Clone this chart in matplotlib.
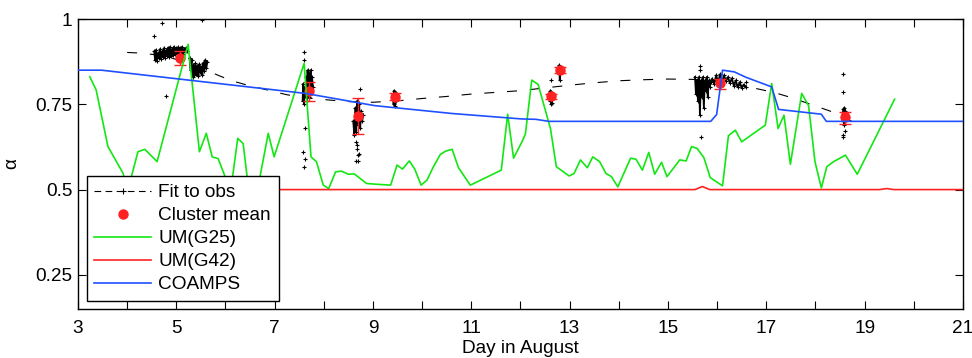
import numpy as np
import matplotlib.pyplot as plt
from matplotlib.lines import Line2D

plt.rcParams['font.family'] = ['Liberation Sans', 'DejaVu Sans']
plt.rcParams['font.size'] = 13.7

# --- observations (alpha per sample), grouped by cluster ---
obs1a_day = [4.55, 4.57, 4.59, 4.61, 4.63, 4.65, 4.67, 4.69, 4.71, 4.73, 4.75, 4.77,
             4.79, 4.81, 4.83, 4.85, 4.87, 4.89, 4.91, 4.93, 4.95, 4.97, 4.99, 5.01,
             5.03, 5.05, 5.07, 5.09, 5.11, 5.13, 5.15, 5.17, 5.19, 5.21]
obs1a_alpha = [0.905, 0.880, 0.910, 0.878, 0.900, 0.885, 0.912, 0.882, 0.905, 0.888,
               0.915, 0.886, 0.908, 0.892, 0.916, 0.890, 0.918, 0.893, 0.912, 0.895,
               0.919, 0.897, 0.914, 0.899, 0.917, 0.896, 0.915, 0.900, 0.918, 0.898,
               0.912, 0.902, 0.915, 0.905]
obs1b_day = [5.27, 5.29, 5.31, 5.33, 5.35, 5.37, 5.39, 5.41, 5.43, 5.45, 5.47, 5.49,
             5.51, 5.53, 5.55, 5.57, 5.59, 5.61, 5.63]
obs1b_alpha = [0.885, 0.850, 0.880, 0.830, 0.865, 0.835, 0.870, 0.840, 0.862, 0.832,
               0.868, 0.845, 0.860, 0.835, 0.872, 0.848, 0.880, 0.855, 0.875]
obs2_day = [7.57, 7.58, 7.60, 7.61, 7.63, 7.64, 7.66, 7.67, 7.69, 7.70, 7.72, 7.73,
            7.75, 7.76, 7.78]
obs2_alpha = [0.76, 0.81, 0.75, 0.80, 0.77, 0.83, 0.76, 0.85, 0.77, 0.84, 0.78, 0.85,
              0.79, 0.83, 0.80]
obs3_day = [8.60, 8.62, 8.64, 8.66, 8.68, 8.70, 8.72, 8.74, 8.76, 8.78, 8.80]
obs3_alpha = [0.70, 0.66, 0.74, 0.67, 0.76, 0.69, 0.75, 0.68, 0.73, 0.70, 0.72]
obs4_day = [9.41, 9.42, 9.43, 9.44, 9.45, 9.46, 9.47, 9.48]
obs4_alpha = [0.78, 0.75, 0.79, 0.745, 0.785, 0.76, 0.775, 0.765]
obs5_day = [12.58, 12.60, 12.61, 12.62, 12.63, 12.64, 12.66]
obs5_alpha = [0.78, 0.76, 0.79, 0.75, 0.785, 0.755, 0.775]
obs6_day = [12.76, 12.78, 12.79, 12.80, 12.81, 12.82, 12.84]
obs6_alpha = [0.855, 0.84, 0.865, 0.82, 0.86, 0.845, 0.855]
obs7a_day = [15.55, 15.57, 15.59, 15.61, 15.63, 15.65, 15.67, 15.69, 15.71, 15.73,
             15.75, 15.77, 15.79, 15.81, 15.83, 15.85, 15.87]
obs7a_alpha = [0.83, 0.78, 0.82, 0.76, 0.83, 0.72, 0.82, 0.77, 0.83, 0.74, 0.82, 0.79,
               0.83, 0.77, 0.82, 0.80, 0.815]
obs7b_day = [15.90, 15.94, 15.98, 16.02, 16.06, 16.10, 16.14, 16.18, 16.22, 16.26,
             16.30, 16.34, 16.38, 16.42, 16.46, 16.50, 16.54, 16.58]
obs7b_alpha = [0.825, 0.810, 0.835, 0.815, 0.838, 0.815, 0.835, 0.818, 0.830, 0.812,
               0.826, 0.805, 0.820, 0.800, 0.815, 0.798, 0.808, 0.800]
obs8_day = [18.55, 18.56, 18.57, 18.58, 18.59, 18.60, 18.61, 18.62, 18.63]
obs8_alpha = [0.72, 0.70, 0.735, 0.69, 0.74, 0.70, 0.73, 0.71, 0.725]

# stray samples outside the dense bands
stray_day = [4.55, 4.70, 4.80, 5.53, 7.60, 7.59, 7.61, 7.57, 7.62, 7.60,
             8.74, 8.65, 8.67, 8.69, 8.65, 8.70, 8.72, 8.68, 12.63,
             15.65, 15.65, 15.67, 16.58, 18.57, 18.57, 18.60, 18.57, 18.57]
stray_alpha = [0.950, 0.987, 0.775, 0.998, 0.902, 0.880, 0.681, 0.611, 0.589, 0.567,
               0.795, 0.640, 0.620, 0.600, 0.585, 0.585, 0.605, 0.630, 0.820,
               0.863, 0.850, 0.655, 0.816, 0.838, 0.787, 0.672, 0.660, 0.655]

# --- fit to observations ---
fit_day = [4.0, 4.3, 4.7, 5.1, 5.5, 5.85, 6.15, 6.4, 6.85, 7.25, 7.7, 8.15, 8.5, 9.0,
           9.5, 10.0, 10.5, 11.0, 11.5, 12.0, 12.5, 13.0, 13.5, 14.0, 14.5, 15.0,
           15.5, 16.0, 16.4, 16.8, 17.15, 17.5, 17.9, 18.3, 18.6, 18.97]
fit_alpha = [0.902, 0.900, 0.893, 0.878, 0.858, 0.835, 0.818, 0.808, 0.792, 0.778,
             0.768, 0.762, 0.758, 0.756, 0.760, 0.767, 0.773, 0.780, 0.785, 0.790,
             0.798, 0.806, 0.813, 0.819, 0.822, 0.824, 0.823, 0.818, 0.806, 0.796,
             0.785, 0.770, 0.750, 0.730, 0.710, 0.684]

# --- cluster means with spread ---
cm_day = [5.07, 7.70, 8.70, 9.44, 12.63, 12.80, 16.06, 18.60]
cm_alpha = [0.885, 0.789, 0.716, 0.772, 0.773, 0.851, 0.811, 0.712]
cm_err_lo = [0.020, 0.029, 0.053, 0.010, 0.008, 0.008, 0.017, 0.020]
cm_err_hi = [0.021, 0.027, 0.051, 0.010, 0.008, 0.008, 0.014, 0.016]

# --- model estimates ---
g25_day = [3.24, 3.37, 3.61, 3.92, 4.00, 4.22, 4.36, 4.61, 5.24, 5.47, 5.61, 5.73,
           5.85, 5.98, 6.10, 6.25, 6.36, 6.48, 6.64, 6.87, 6.99, 7.60, 7.74, 7.85,
           7.99, 8.10, 8.24, 8.36, 8.50, 8.62, 8.87, 9.04, 9.36, 9.49, 9.60, 9.74,
           9.85, 9.98, 10.10, 10.23, 10.37, 10.48, 10.61, 10.74, 10.98, 11.61, 11.74,
           11.86, 12.03, 12.10, 12.23, 12.36, 12.61, 12.73, 12.99, 13.09, 13.22,
           13.36, 13.47, 13.61, 13.74, 13.85, 13.98, 14.24, 14.35, 14.48, 14.61,
           14.73, 14.87, 14.98, 15.24, 15.37, 15.48, 15.59, 15.73, 15.86, 16.11,
           16.23, 16.37, 16.50, 16.98, 17.11, 17.24, 17.36, 17.49, 17.72, 17.86,
           17.99, 18.12, 18.23, 18.37, 18.61, 18.85, 19.61]
g25_alpha = [0.831, 0.792, 0.626, 0.547, 0.49, 0.611, 0.618, 0.582, 0.926, 0.611,
             0.665, 0.596, 0.591, 0.543, 0.49, 0.650, 0.635, 0.49, 0.49, 0.665,
             0.596, 0.870, 0.596, 0.582, 0.513, 0.503, 0.552, 0.554, 0.545, 0.546,
             0.518, 0.516, 0.513, 0.572, 0.560, 0.584, 0.560, 0.513, 0.528, 0.567,
             0.603, 0.613, 0.618, 0.564, 0.513, 0.557, 0.721, 0.592, 0.640, 0.662,
             0.821, 0.808, 0.679, 0.567, 0.540, 0.547, 0.587, 0.564, 0.596, 0.582,
             0.547, 0.538, 0.508, 0.592, 0.589, 0.557, 0.609, 0.545, 0.580, 0.538,
             0.587, 0.584, 0.626, 0.621, 0.594, 0.535, 0.511, 0.658, 0.674, 0.640,
             0.689, 0.811, 0.679, 0.718, 0.574, 0.782, 0.746, 0.582, 0.505, 0.567,
             0.582, 0.601, 0.545, 0.765]
g42_day = [3.25, 15.55, 15.70, 15.85, 19.30, 19.45, 19.60, 21.0]
g42_alpha = [0.5, 0.5, 0.509, 0.5, 0.5, 0.503, 0.5, 0.5]
coamps_day = [3.0, 3.48, 7.62, 7.82, 9.04, 10.61, 12.03, 12.31, 12.58, 15.87, 15.99,
              16.11, 16.35, 16.59, 17.11, 17.25, 17.87, 18.12, 18.22, 21.0]
coamps_alpha = [0.850, 0.850, 0.782, 0.777, 0.746, 0.723, 0.707, 0.706, 0.700, 0.700,
                0.720, 0.850, 0.845, 0.829, 0.801, 0.735, 0.725, 0.721, 0.700, 0.700]

green = '#14e614'
red = '#ff2222'
blue = '#1f50ff'
fit_dash = (9, 11.5)

fig = plt.figure(figsize=(9.72, 3.58), dpi=100)
ax = fig.add_axes([0.0802, 0.1369, 0.9105, 0.81])

bands = [(obs1a_day, obs1a_alpha), (obs1b_day, obs1b_alpha), (obs2_day, obs2_alpha),
         (obs3_day, obs3_alpha), (obs4_day, obs4_alpha), (obs5_day, obs5_alpha),
         (obs6_day, obs6_alpha), (obs7a_day, obs7a_alpha), (obs7b_day, obs7b_alpha),
         (obs8_day, obs8_alpha)]
for d, a in bands:
    ax.plot(d, a, color='k', lw=1.3, marker='+', ms=2.5, mew=0.8)
ax.plot(stray_day, stray_alpha, ls='none', color='k', marker='+', ms=2.2, mew=0.8)

ax.plot(fit_day, fit_alpha, color='k', lw=0.8, dashes=fit_dash)

cm_err = np.array([cm_err_lo, cm_err_hi])
ax.errorbar(cm_day, cm_alpha, yerr=cm_err, fmt='o', color=red, ms=6.5,
            ecolor=red, elinewidth=1.0, capsize=4.5, capthick=1.0, zorder=4)

ax.plot(g25_day, g25_alpha, color=green, lw=1.2, zorder=5)
ax.plot(g42_day, g42_alpha, color=red, lw=1.2, zorder=5)
ax.plot(coamps_day, coamps_alpha, color=blue, lw=1.2, zorder=5)

ax.set_xlim(3, 21)
ax.set_ylim(0.15, 1)
ax.set_xticks(np.arange(3, 22, 2))
ax.set_xticks(np.arange(4, 21, 2), minor=True)
ax.set_yticks([0.25, 0.5, 0.75, 1])
ax.set_yticklabels(['0.25', '0.5', '0.75', '1'])
ax.tick_params(which='both', direction='in', length=6, width=0.8,
               top=True, right=True, labelsize=13.7, colors='k')
ax.tick_params(axis='x', pad=8)
ax.tick_params(axis='y', pad=4)
for s in ax.spines.values():
    s.set_linewidth(1.0)

ax.set_xlabel('Day in August', fontsize=13.7, labelpad=2)
ax.set_ylabel('α', fontsize=13.7)
ax.yaxis.set_label_coords(-0.0655, 0.5)

handles = [
    Line2D([], [], color='k', lw=0.8, dashes=(6, 4), marker='+', ms=4, mew=0.8),
    Line2D([], [], ls='none', marker='o', color=red, ms=6.5),
    Line2D([], [], color=green, lw=1.2),
    Line2D([], [], color=red, lw=1.2),
    Line2D([], [], color=blue, lw=1.2),
]
labels = ['Fit to obs', 'Cluster mean', 'UM(G25)', 'UM(G42)', 'COAMPS']
leg = ax.legend(handles, labels, loc='lower left', bbox_to_anchor=(0.0098, 0.0276),
                borderaxespad=0, fancybox=False, edgecolor='k', framealpha=1,
                handlelength=3.0, handletextpad=0.37, labelspacing=0.3,
                borderpad=0.4, fontsize=13.7)
leg.get_frame().set_linewidth(1.0)
leg.set_zorder(10)

fig.savefig('out.png', dpi=100)
